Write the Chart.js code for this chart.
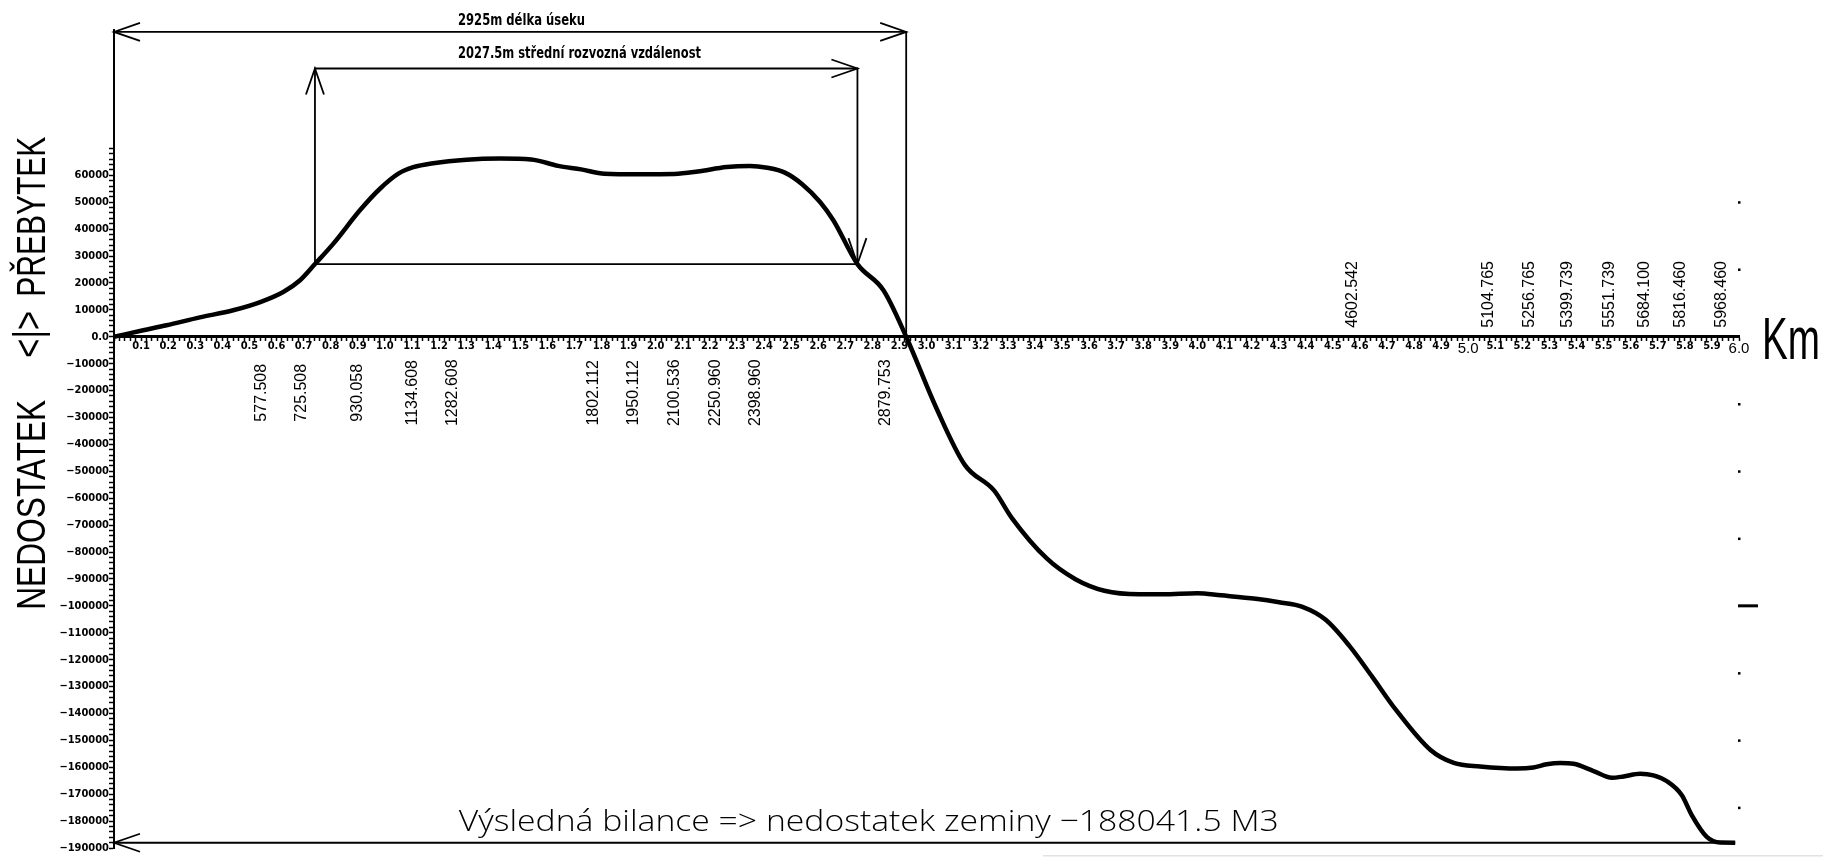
<!DOCTYPE html>
<html>
<head>
<meta charset="utf-8">
<script src="https://cdn.jsdelivr.net/npm/chart.js@4.4.1/dist/chart.umd.min.js"></script>
<style>
  html, body { margin: 0; padding: 0; background: #fff; }
  #wrap { width: 1823px; height: 857px; position: relative; }
</style>
</head>
<body>
<div id="wrap"><canvas id="bilance"></canvas></div>
<script>
// hmotová křivka: staničení (km) a kumulovaná kubatura (m3)
const staniceKm = [0, 0.108, 0.194, 0.317, 0.44, 0.54, 0.625, 0.687, 0.742, 0.81, 0.908, 0.982,
  1.05, 1.105, 1.179, 1.302, 1.425, 1.54, 1.64, 1.725, 1.811, 1.94, 2.069, 2.155, 2.262, 2.348,
  2.412, 2.477, 2.541, 2.607, 2.656, 2.745, 2.841, 2.925, 3.035, 3.142, 3.25, 3.314, 3.443, 3.55,
  3.657, 3.786, 3.872, 4.0, 4.087, 4.216, 4.302, 4.388, 4.474, 4.56, 4.646, 4.732, 4.861, 4.947,
  5.044, 5.18, 5.241, 5.29, 5.34, 5.389, 5.463, 5.531, 5.574, 5.635, 5.684, 5.734, 5.789, 5.826,
  5.881, 5.931, 5.986];
const kubatura = [0, 2400, 4260, 7200, 9850, 12900, 16650, 21000, 27000, 34600, 47000, 55000,
  60600, 63000, 64500, 65800, 66200, 65900, 63500, 62200, 60600, 60400, 60500, 61400, 63100, 63500,
  62800, 61000, 56700, 50100, 43300, 27000, 17300, 0, -26200, -47700, -57200, -67200, -82300, -90100,
  -94400, -95700, -95700, -95300, -96100, -97400, -98700, -100400, -105200, -114700, -126400, -138500, -153600, -158400,
  -159700, -160500, -160100, -158900, -158400, -158700, -161400, -163900, -163400, -162400, -163000, -165200, -170400, -177900,
  -185900, -188000, -188041.5];

// popisy staničení (m)
const staniceDole = [577.508, 725.508, 930.058, 1134.608, 1282.608, 1802.112, 1950.112, 2100.536, 2250.960, 2398.960, 2879.753];
const staniceNahore = [4602.542, 5104.765, 5256.765, 5399.739, 5551.739, 5684.100, 5816.460, 5968.460];

// osa y: rozsah a krok značek
const osaY = [-190000, 114000];
const krokY = 2000;

// kóty
const delkaUseku = [0, 2.925];        // km
const delkaUrovne = 113300;
const rozvoz = [0.742, 2.745];         // km
const rozvozUrovne = [27000, 99700];
const bilance = -188041.5;
const znackyVpravo = [50000, 25000, -25000, -50000, -75000, -100000, -125000, -150000, -175000];

const textDelka = '2925m délka úseku';
const textRozvoz = '2027.5m střední rozvozná vzdálenost';
const textBilance = 'Výsledná bilance => nedostatek zeminy −188041.5 M3';

const pts = (xs, ys) => xs.map((x, i) => ({x: x, y: ys[i]}));
const kontura = {borderColor: '#000', pointRadius: 0, tension: 0, clip: false, fill: false};

function sipka(ctx, px, py, dx, dy) {
  const L = 26, W = 9;
  ctx.beginPath();
  ctx.moveTo(px - dx * L - dy * W, py - dy * L + dx * W);
  ctx.lineTo(px, py);
  ctx.lineTo(px - dx * L + dy * W, py - dy * L - dx * W);
  ctx.stroke();
}

function textNaSirku(ctx, text, x, y, sirka, font, rot) {
  ctx.save();
  ctx.font = font;
  ctx.textAlign = 'left';
  ctx.textBaseline = 'alphabetic';
  const w = ctx.measureText(text).width;
  ctx.translate(x, y);
  if (rot) ctx.rotate(rot);
  ctx.scale(sirka / w, 1);
  ctx.fillText(text, 0, 0);
  ctx.restore();
}

const kresba = {
  id: 'kresba',
  afterDraw(chart) {
    const ctx = chart.ctx, x = chart.scales.x, y = chart.scales.y, area = chart.chartArea;
    const y0 = y.getPixelForValue(0);
    ctx.save();
    ctx.strokeStyle = '#000';
    ctx.fillStyle = '#000';
    ctx.lineWidth = 1.8;

    // šipky kót
    sipka(ctx, x.getPixelForValue(delkaUseku[0]), y.getPixelForValue(delkaUrovne), -1, 0);
    sipka(ctx, x.getPixelForValue(delkaUseku[1]), y.getPixelForValue(delkaUrovne), 1, 0);
    sipka(ctx, x.getPixelForValue(rozvoz[0]), y.getPixelForValue(rozvozUrovne[1]), 0, -1);
    sipka(ctx, x.getPixelForValue(rozvoz[1]), y.getPixelForValue(rozvozUrovne[1]), 1, 0);
    sipka(ctx, x.getPixelForValue(rozvoz[1]), y.getPixelForValue(rozvozUrovne[0]), 0, 1);
    sipka(ctx, x.getPixelForValue(0), y.getPixelForValue(bilance), -1, 0);

    // texty kót
    const tx = x.getPixelForValue(1.27);
    textNaSirku(ctx, textDelka, tx, y.getPixelForValue(delkaUrovne) - 7, 127, 'bold 16px "DejaVu Sans"');
    textNaSirku(ctx, textRozvoz, tx, y.getPixelForValue(rozvozUrovne[1]) - 10, 243, 'bold 16px "DejaVu Sans"');
    textNaSirku(ctx, textBilance, x.getPixelForValue(1.273), y.getPixelForValue(bilance) - 12, 820, '300 30px "Open Sans"');

    // boční popisy
    textNaSirku(ctx, 'PŘEBYTEK', 45, y0 - 40, 160, '40px "Liberation Sans"', -Math.PI / 2);
    textNaSirku(ctx, '<|>', 42, y0 + 21, 47, '40px "Liberation Sans"', -Math.PI / 2);
    textNaSirku(ctx, 'NEDOSTATEK', 45, y0 + 273, 210, '40px "Liberation Sans"', -Math.PI / 2);
    textNaSirku(ctx, 'Km', area.right + 23, y0 + 22, 58, '60px "Liberation Sans"');

    // staničení
    ctx.font = '16px "Liberation Sans"';
    ctx.textBaseline = 'alphabetic';
    staniceDole.forEach(function(m) {
      ctx.save();
      ctx.translate(x.getPixelForValue(m / 1000) - 4, y0 + 56);
      ctx.rotate(-Math.PI / 2);
      ctx.textAlign = 'center';
      ctx.fillText(m.toFixed(3), 0, 0);
      ctx.restore();
    });
    staniceNahore.forEach(function(m) {
      ctx.save();
      ctx.translate(x.getPixelForValue(m / 1000) - 4, y0 - 9);
      ctx.rotate(-Math.PI / 2);
      ctx.textAlign = 'left';
      ctx.fillText(m.toFixed(3), 0, 0);
      ctx.restore();
    });

    // značky na pravém okraji
    znackyVpravo.forEach(function(v) {
      const py = y.getPixelForValue(v);
      if (v % 100000 === 0) ctx.fillRect(area.right - 1, py - 1.5, 20, 3);
      else ctx.fillRect(area.right - 1, py - 1, 2.5, 2.5);
    });

    // slabá linka u spodního okraje výkresu
    ctx.fillStyle = '#e2e2e2';
    ctx.fillRect(1043, chart.height - 2, chart.width - 1043, 1.5);
    ctx.restore();
  }
};

new Chart(document.getElementById("bilance").getContext('2d'), {
  type: 'line',
  data: {
    datasets: [{
      label: 'hmotová křivka',
      data: pts(staniceKm, kubatura),
      borderColor: '#000',
      borderWidth: 4.5,
      pointRadius: 0,
      cubicInterpolationMode: 'monotone',
      clip: false
    }, Object.assign({
      label: 'délka úseku',
      data: [{x: delkaUseku[0], y: delkaUrovne}, {x: delkaUseku[1], y: delkaUrovne}, {x: delkaUseku[1], y: 0}],
      borderWidth: 1.8
    }, kontura), Object.assign({
      label: 'rozvozná vzdálenost',
      data: [{x: rozvoz[0], y: rozvozUrovne[0]}, {x: rozvoz[0], y: rozvozUrovne[1]}, {x: rozvoz[1], y: rozvozUrovne[1]},
             {x: rozvoz[1], y: rozvozUrovne[0]}, {x: rozvoz[0], y: rozvozUrovne[0]}],
      borderWidth: 1.8
    }, kontura), Object.assign({
      label: 'bilance',
      data: [{x: 0, y: bilance}, {x: staniceKm[staniceKm.length - 1], y: bilance}],
      borderWidth: 2
    }, kontura)]
  },
  options: {
    responsive: true,
    maintainAspectRatio: false,
    animation: false,
    events: [],
    layout: { padding: { left: 0, right: 84, top: 30, bottom: 9 } },
    plugins: { legend: { display: false }, tooltip: { enabled: false } },
    scales: {
      x: {
        type: 'linear',
        min: 0,
        max: 6,
        position: { y: 0 },
        afterFit: function(s) { s.height = 0; },
        border: { color: '#000', width: 3 },
        grid: { drawOnChartArea: false, drawTicks: true, tickLength: 3, tickColor: '#000', tickWidth: 1.5 },
        ticks: {
          stepSize: 0.02,
          autoSkip: false,
          maxRotation: 0,
          minRotation: 0,
          padding: 0,
          color: '#000',
          font: function(c) {
            const v = c.tick ? c.tick.value : 0;
            if (v >= 4.99 && Math.abs(v - Math.round(v)) < 1e-6) return { family: '"Liberation Sans"', size: 15 };
            return { family: '"DejaVu Sans Condensed", "DejaVu Sans"', size: 11, weight: 'bold' };
          },
          callback: function(v) {
            const d = v * 10;
            if (v > 0.01 && Math.abs(d - Math.round(d)) < 1e-6) return v.toFixed(1);
            return '';
          }
        }
      },
      y: {
        type: 'linear',
        min: osaY[0],
        max: osaY[1],
        position: 'left',
        afterFit: function(s) { s.width = 114; },
        border: { color: '#000', width: 2 },
        grid: {
          drawOnChartArea: false,
          drawTicks: true,
          tickLength: 5,
          tickWidth: 1.5,
          tickColor: function(c) { return c.tick && c.tick.value > 70500 ? 'rgba(0,0,0,0)' : '#000'; }
        },
        ticks: {
          stepSize: krokY,
          autoSkip: false,
          padding: 0,
          color: '#000',
          font: { family: '"DejaVu Sans Condensed", "DejaVu Sans"', size: 11, weight: 'bold' },
          callback: function(v) {
            const r = Math.round(v / 1000) * 1000;
            if (Math.abs(v - r) > 50) return '';
            if (r === 0) return '0.0';
            if (r % 10000 === 0 && r <= 60000) return String(r).replace('-', '−');
            return '';
          }
        }
      }
    }
  },
  plugins: [kresba]
});
</script>
</body>
</html>
